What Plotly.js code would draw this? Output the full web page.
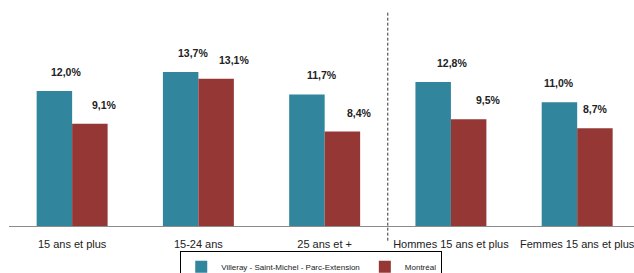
<!DOCTYPE html>
<html>
<head>
<meta charset="utf-8">
<script src="https://cdn.plot.ly/plotly-3.0.1.min.js"></script>
<style>html,body{margin:0;padding:0;background:#fff;}#chart{width:634px;height:273px;}</style>
</head>
<body>
<div id="chart"></div>
<script>
const categories = ["15 ans et plus", "15-24 ans", "25 ans et +", "Hommes 15 ans et plus", "Femmes 15 ans et plus"];
const seriesNames = ["Villeray - Saint-Michel - Parc-Extension", "Montréal"];
const vsp = [12.0, 13.7, 11.7, 12.8, 11.0];
const mtl = [9.1, 13.1, 8.4, 9.5, 8.7];

const colors = ["#31859C", "#953735"];
const FONT = "Liberation Sans, Arial, sans-serif";
// horizontal label offsets in px (style only)
const labelShiftA = [12, 13, 15, 19, 0];
const labelShiftB = [14, 18, 17, 20, 0];

const fmt = v => v.toFixed(1).replace(".", ",") + "%";

const traces = [
  {type: "bar", x: categories, y: vsp, name: seriesNames[0], marker: {color: colors[0]}, hoverinfo: "none"},
  {type: "bar", x: categories, y: mtl, name: seriesNames[1], marker: {color: colors[1]}, hoverinfo: "none"}
];

const annotations = [];
categories.forEach((c, i) => {
  annotations.push({x: i, y: vsp[i], xref: "x", yref: "y", text: "<b>" + fmt(vsp[i]) + "</b>", showarrow: false,
    xshift: -18 + labelShiftA[i], yshift: 19, font: {family: FONT, size: 10.5, color: "#222"}});
  annotations.push({x: i, y: mtl[i], xref: "x", yref: "y", text: "<b>" + fmt(mtl[i]) + "</b>", showarrow: false,
    xshift: 18 + labelShiftB[i], yshift: 19, font: {family: FONT, size: 10.5, color: "#222"}});
});

const layout = {
  width: 634, height: 273,
  margin: {l: 9, r: 0, t: 0, b: 47, autoexpand: false},
  paper_bgcolor: "#fff", plot_bgcolor: "#fff",
  barmode: "group", bargap: 0.438, bargroupgap: 0,
  xaxis: {type: "category", range: [-0.5, 4.45], showline: true, linecolor: "#8c8c8c", linewidth: 1,
    ticks: "", ticklabelstandoff: 8, tickfont: {family: FONT, size: 11, color: "#222"}, showgrid: false, zeroline: false, fixedrange: true, automargin: false},
  yaxis: {range: [0, 20.1], visible: false, showgrid: false, zeroline: false, fixedrange: true},
  showlegend: true,
  legend: {orientation: "h", x: 0.274, xanchor: "left", y: -0.112, yanchor: "top",
    bordercolor: "#000", borderwidth: 1, bgcolor: "#fff",
    font: {family: FONT, size: 8, color: "#222"}, itemwidth: 30, tracegroupgap: 0},
  shapes: [{type: "line", xref: "x", yref: "paper", x0: 2.5, x1: 2.5, y0: -0.065, y1: 0.947,
    line: {color: "#333", width: 1, dash: "3px,2px"}}],
  annotations: annotations
};

Plotly.newPlot("chart", traces, layout, {staticPlot: true, displayModeBar: false});
</script>
</body>
</html>
